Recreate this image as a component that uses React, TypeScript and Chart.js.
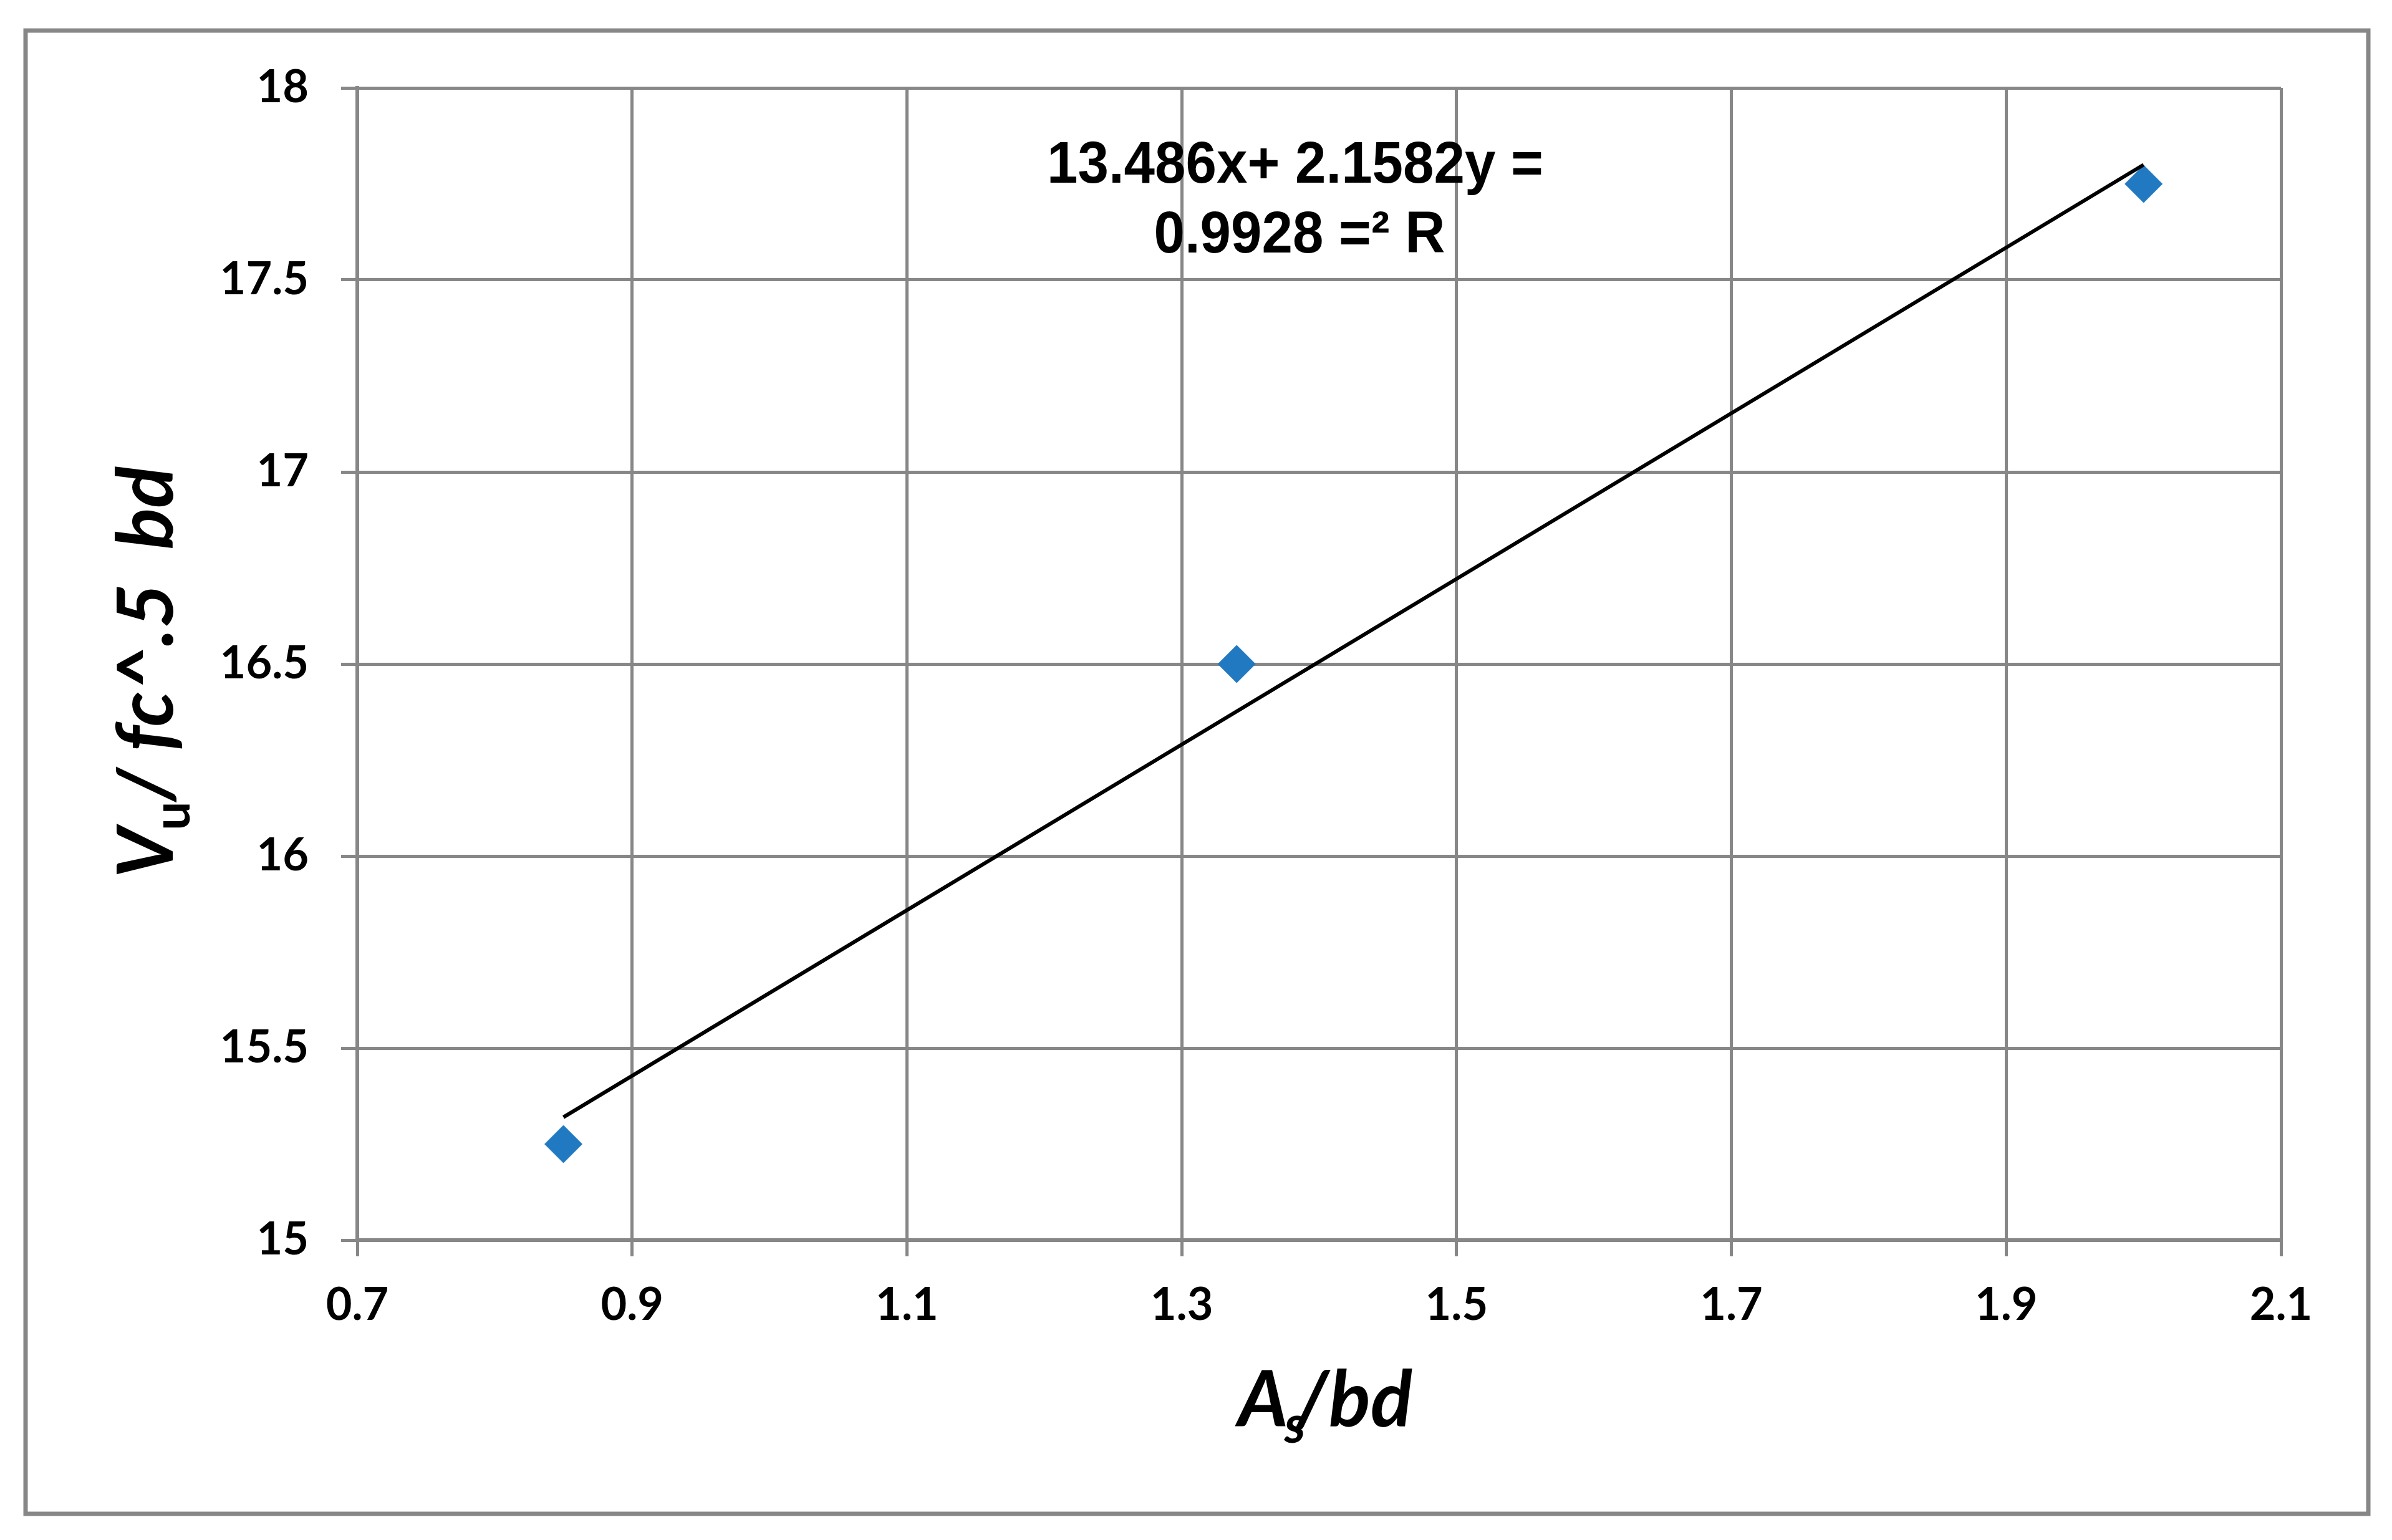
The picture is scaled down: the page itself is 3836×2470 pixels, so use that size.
import React, { useEffect, useRef } from "react";
import { Chart, registerables } from "chart.js";

Chart.register(...registerables);

// ---- data ----
const asBd = [0.85, 1.34, 2.0];
const vuNorm = [15.25, 16.5, 17.75];
const trendX = [0.85, 2.0];
const trendY = [15.32, 17.8];
const xTicks = [0.7, 0.9, 1.1, 1.3, 1.5, 1.7, 1.9, 2.1];
const yTicks = [15, 15.5, 16, 16.5, 17, 17.5, 18];
const equationLines = ["13.486x+ 2.1582y =", "0.9928 =² R"];

const W = 3836;
const H = 2470;
const GRID = "#878787";
const BLUE = "#2179C1";
const TICK_FONT = "Lato";

type Seg = { t: string; font: string; dy?: number; dx?: number };

function drawRich(ctx: CanvasRenderingContext2D, segs: Seg[], cx: number, baseY: number) {
  const widths = segs.map((s) => {
    ctx.font = s.font;
    return ctx.measureText(s.t).width + (s.dx || 0);
  });
  const total = widths.reduce((a, b) => a + b, 0);
  let x = cx - total / 2;
  ctx.textAlign = "left";
  ctx.textBaseline = "alphabetic";
  segs.forEach((s, i) => {
    ctx.font = s.font;
    ctx.fillText(s.t, x + (s.dx || 0), baseY + (s.dy || 0));
    x += widths[i];
  });
}

const decorPlugin = {
  id: "decor",
  beforeDraw(chart: any) {
    const ctx: CanvasRenderingContext2D = chart.ctx;
    ctx.save();
    ctx.fillStyle = "#ffffff";
    ctx.fillRect(0, 0, chart.width, chart.height);
    ctx.strokeStyle = GRID;
    ctx.lineWidth = 7;
    ctx.strokeRect(41, 49, 3798 - 41, 2428 - 49);
    ctx.restore();
  },
  afterDraw(chart: any) {
    const ctx: CanvasRenderingContext2D = chart.ctx;
    ctx.save();
    ctx.fillStyle = "#000000";

    // regression equation (condensed bold)
    ctx.font = "bold 95px 'Liberation Sans', Arial, sans-serif";
    const w1 = ctx.measureText(equationLines[0]).width;
    const sx = 796 / w1;
    ctx.textAlign = "center";
    ctx.textBaseline = "alphabetic";
    const eq = [
      { cx: 2077, by: 293 },
      { cx: 2084, by: 405 },
    ];
    equationLines.forEach((line, i) => {
      ctx.save();
      ctx.translate(eq[i].cx, eq[i].by);
      ctx.scale(sx, 1);
      ctx.fillText(line, 0, 0);
      ctx.restore();
    });

    const bi = `italic bold 124px ${TICK_FONT}, sans-serif`;
    const sub = `bold 82px ${TICK_FONT}, sans-serif`;
    const subI = `italic bold 84px ${TICK_FONT}, sans-serif`;

    // x axis title: A_s/bd
    drawRich(
      ctx,
      [
        { t: "A", font: bi },
        { t: "s", font: subI, dy: 26, dx: -6 },
        { t: "/bd", font: bi, dx: -16 },
      ],
      2125,
      2288
    );

    // y axis title: V_u/ fc^.5 bd (rotated)
    ctx.save();
    ctx.translate(277, 1078);
    ctx.rotate(-Math.PI / 2);
    drawRich(
      ctx,
      [
        { t: "V", font: bi },
        { t: "u", font: sub, dy: 27, dx: -4 },
        { t: "/ fc^.5  bd", font: bi },
      ],
      0,
      0
    );
    ctx.restore();

    ctx.restore();
  },
};

export default function App() {
  const canvasRef = useRef<HTMLCanvasElement | null>(null);

  useEffect(() => {
    document.body.style.margin = "0";
    let chart: Chart | null = null;
    let cancelled = false;

    const build = () => {
      if (cancelled || !canvasRef.current) return;
      chart = new Chart(canvasRef.current, {
        type: "scatter",
        data: {
          datasets: [
            {
              type: "line",
              label: "trend",
              data: trendX.map((x, i) => ({ x, y: trendY[i] })),
              borderColor: "#000000",
              borderWidth: 6,
              pointRadius: 0,
              fill: false,
              tension: 0,
            } as any,
            {
              type: "scatter",
              label: "data",
              data: asBd.map((x, i) => ({ x, y: vuNorm[i] })),
              pointStyle: "rectRot",
              pointRadius: 30,
              pointBackgroundColor: BLUE,
              pointBorderColor: BLUE,
              pointBorderWidth: 1,
            } as any,
          ],
        },
        options: {
          animation: false,
          responsive: false,
          devicePixelRatio: 1,
          layout: { padding: { top: 141, right: 178, left: 0, bottom: 0 } },
          plugins: {
            legend: { display: false },
            tooltip: { enabled: false },
          },
          scales: {
            x: {
              type: "linear",
              min: 0.7,
              max: 2.1,
              afterBuildTicks: (s: any) => {
                s.ticks = xTicks.map((v) => ({ value: v }));
              },
              afterFit: (s: any) => {
                s.height = H - 1989;
              },
              ticks: {
                callback: (v: any) => Number(v).toFixed(1),
                font: { family: TICK_FONT, size: 72, weight: "bold" },
                color: "#000000",
                padding: 36,
                maxRotation: 0,
                autoSkip: false,
              },
              grid: {
                color: GRID,
                lineWidth: 5,
                tickLength: 26,
                tickColor: GRID,
                tickWidth: 5,
              },
              border: { color: GRID, width: 6 },
            },
            y: {
              type: "linear",
              min: 15,
              max: 18,
              afterBuildTicks: (s: any) => {
                s.ticks = yTicks.map((v) => ({ value: v }));
              },
              afterFit: (s: any) => {
                s.width = 573;
              },
              ticks: {
                callback: (v: any) => String(v),
                font: { family: TICK_FONT, size: 72, weight: "bold" },
                color: "#000000",
                padding: 52,
                autoSkip: false,
              },
              grid: {
                color: GRID,
                lineWidth: 5,
                tickLength: 26,
                tickColor: GRID,
                tickWidth: 5,
              },
              border: { color: GRID, width: 6 },
            },
          },
        },
        plugins: [decorPlugin],
      });
    };

    const fontsReady = (document as any).fonts
      ? Promise.all([
          (document as any).fonts.load(`bold 72px ${TICK_FONT}`),
          (document as any).fonts.load(`italic bold 124px ${TICK_FONT}`),
          (document as any).fonts.load(`bold 95px 'Liberation Sans'`),
        ]).catch(() => null)
      : Promise.resolve(null);
    fontsReady.then(build);

    return () => {
      cancelled = true;
      if (chart) chart.destroy();
    };
  }, []);

  return (
    <div style={{ width: W, height: H, position: "relative", background: "#ffffff" }}>
      <canvas ref={canvasRef} width={W} height={H} style={{ width: W, height: H, display: "block" }} />
    </div>
  );
}
